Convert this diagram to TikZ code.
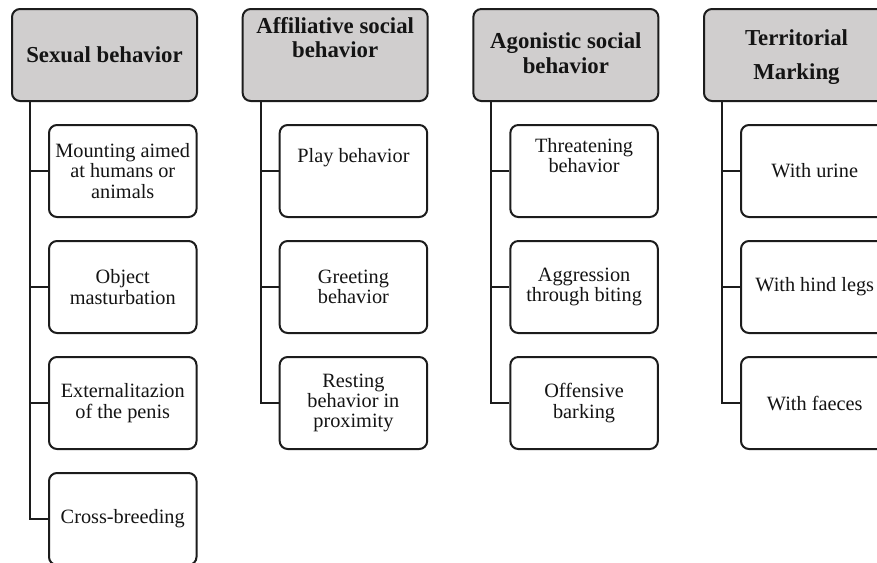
\documentclass[tikz,border=0pt]{standalone}
\usepackage{fontspec}
\setmainfont{Liberation Serif}
\definecolor{hdfill}{HTML}{D0CECE}
\definecolor{ink}{HTML}{1C1C1C}
\definecolor{txt}{HTML}{141414}
\begin{document}
\begin{tikzpicture}[x=1pt,y=-1pt,
  box/.style={draw=ink, line width=2pt, rounded corners=8pt, minimum height=92pt, inner sep=0pt, text=txt, align=center},
  hdbox/.style={box, fill=hdfill, minimum width=185pt, font=\fontsize{22.8}{24}\selectfont\bfseries},
  chbox/.style={box, fill=white, minimum width=147.5pt, font=\fontsize{20.3}{20.3}\selectfont},
  hdlab/.style={font=\fontsize{22.8}{24}\selectfont\bfseries, align=center, inner sep=0pt, text=txt},
  chlab/.style={font=\fontsize{20.3}{20.3}\selectfont, align=center, inner sep=0pt, text=txt},
  link/.style={draw=ink, line width=2pt}]
\useasboundingbox (0,0) rectangle (877,562);
\fill[white] (0,0) rectangle (877,562);
\clip (0,0) rectangle (877,562);

% connectors (drawn first, boxes on top)
\begin{scope}[on background layer/.style={}]
\end{scope}

% ---------- Column 1 ----------
\node[hdbox] (h1) at (104.5,55) {Sexual behavior};
\node[chbox] (a1) at (122.75,171) {Mounting aimed\\at humans or\\animals};
\node[chbox] (a2) at (122.75,287) {Object\\masturbation};
\node[chbox] (a3) at (122.75,403) {Externalitazion\\of the penis};
\node[chbox] (a4) at (122.75,519) {Cross-breeding};

% ---------- Column 2 ----------
\node[hdbox] (h2) at (335.17,55) {};
\node[hdlab, yshift=17pt] (h2t) at (h2.center) {Affiliative social\\behavior};
\node[chbox] (b1) at (353.42,171) {};
\node[chlab, yshift=13pt] (b1t) at (b1.center) {Play behavior};
\node[chbox] (b2) at (353.42,287) {Greeting\\behavior};
\node[chbox] (b3) at (353.42,403) {Resting\\behavior in\\proximity};

% ---------- Column 3 ----------
\node[hdbox] (h3) at (565.83,55) {};
\node[hdlab, font=\fontsize{22.8}{25}\selectfont\bfseries, yshift=2pt] (h3t) at (h3.center) {Agonistic social\\behavior};
\node[chbox] (c1) at (584.08,171) {};
\node[chlab, yshift=15.5pt] (c1t) at (c1.center) {Threatening\\behavior};
\node[chbox] (c2) at (584.08,287) {Aggression\\through biting};
\node[chbox] (c3) at (584.08,403) {Offensive\\barking};

% ---------- Column 4 ----------
\node[hdbox] (h4) at (796.5,55) {};
\node[hdlab, font=\fontsize{22.8}{34}\selectfont\bfseries, yshift=-2pt] (h4t) at (h4.center) {Territorial\\Marking};
\node[chbox] (d1) at (814.75,171) {With urine};
\node[chbox] (d2) at (814.75,287) {With hind legs};
\node[chbox] (d3) at (814.75,403) {With faeces};

% connectors
\foreach \h/\c in {h1/a1,h1/a2,h1/a3,h1/a4,h2/b1,h2/b2,h2/b3,h3/c1,h3/c2,h3/c3,h4/d1,h4/d2,h4/d3}
  \draw[link] ([xshift=19pt]\h.south west) |- (\c.west);
\end{tikzpicture}
\end{document}
